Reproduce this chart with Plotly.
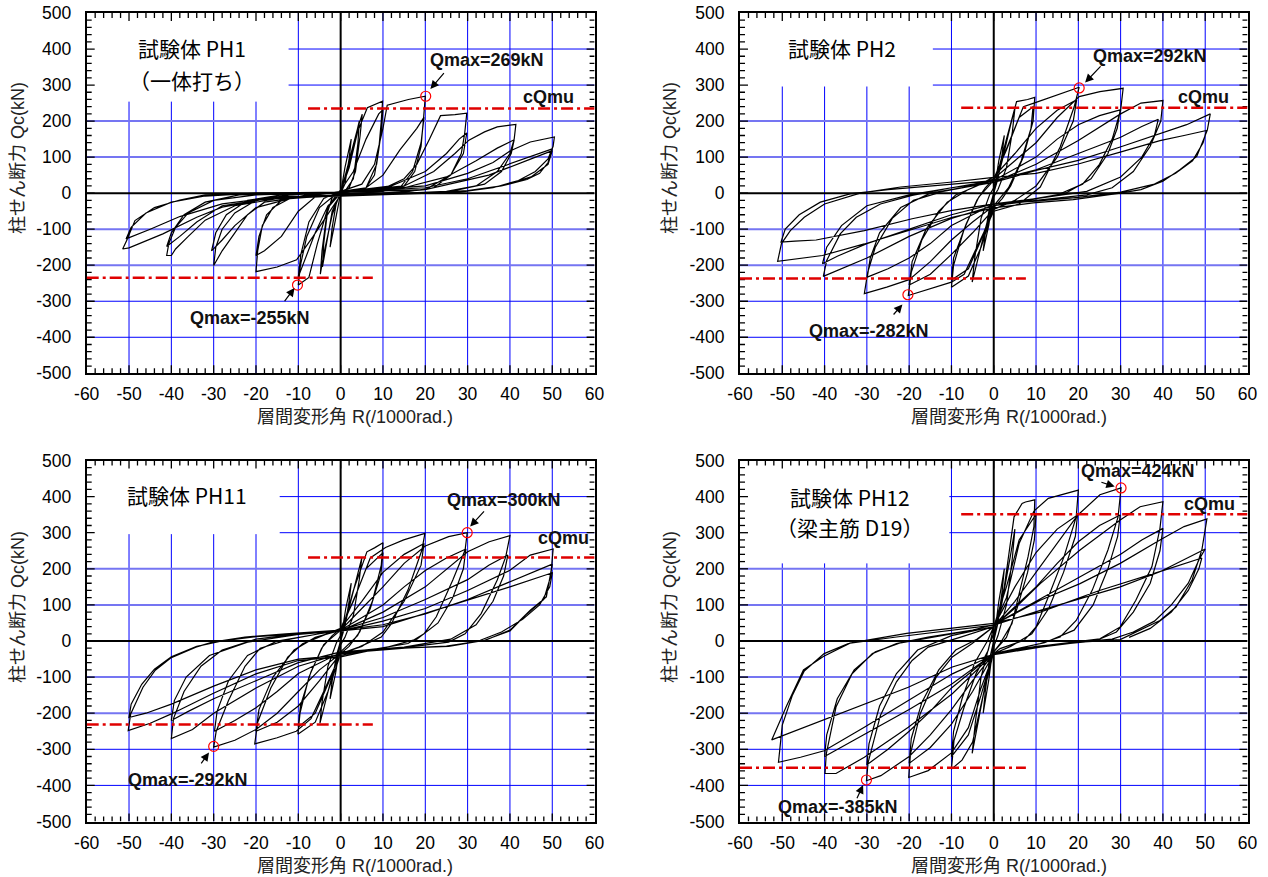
import plotly.graph_objects as go

# ---------------- data (R in 1/1000 rad, Q in kN) ----------------
PH1_R = [0, 1, 2.5, 2, 1, 0, -1, -2.5, -2, -1, 0,
         2, 4, 5.1, 4.6, 3.5, 2, 0, -2, -4, -4.8, -4.4, -3.3, -2, 0,
         2, 4.4, 4.1, 3, 1, 0, -2, -4.3, -4, -3, -1, 0,
         2, 4, 6.3, 8, 9.9, 9.6, 9, 8, 6, 3, 0, -3, -5.5, -7.5, -10, -9.5, -8, -5, -2, 0,
         3, 6, 9, 10, 9.6, 8.5, 6, 2, 0, -3, -6, -8.5, -10, -9.4, -7.5, -4, 0,
         5, 8, 10, 11, 16, 19.7, 20, 19.6, 19, 17.5, 15, 10, 0, -3.4, -6.5, -10.4, -15, -20, -19.6, -18.5, -16, -12, -6, 0,
         6, 10, 14, 18, 19.7, 19, 17, 14, 8, 0, -6, -10, -14, -18, -20, -19.3, -17.5, -14, -8, 0,
         10, 15, 18, 21, 23.6, 27, 29.8, 29.3, 28.5, 26, 22, 15, 0, -10, -18, -22, -25, -28, -30, -29.5, -28, -25, -20, -12, 0,
         12, 20, 25, 28, 29.8, 29, 26, 20, 10, 0, -12, -20, -25, -28, -30.5, -29.5, -27, -22, -14, 0,
         15, 22, 27, 30.3, 34, 37, 41.4, 41, 40, 37, 32, 25, 0, -15, -25, -32, -36, -39, -40, -41.1, -40.6, -39, -36, -30, -20, 0,
         15, 25, 32, 37, 41, 40.3, 38, 34, 26, 0, -15, -28, -34, -38, -41.1, -40, -37, -32, -24, 0,
         20, 30, 36, 40, 44.8, 50.5, 50.2, 49, 46, 42, 36, 28, 0, -10, -19, -28, -34, -42, -50, -51.5, -50.5, -48.6, -44, -38, -32, -19, 0,
         20, 30, 40, 46, 50, 49, 47, 44, 38, 30, 20, 0, -15, -28, -38, -45, -50.7, -49.5, -46, -40, -32, -20, 0,
         20, 35, 45, 50, 49, 45, 38, 28]
PH1_Q = [0, 70, 150, 95, 25, 0, -60, -150, -95, -25, 0,
         90, 180, 219, 160, 60, 15, 3, -60, -170, -225, -160, -60, -12, 5,
         80, 200, 140, 40, 5, 0, -50, -205, -140, -40, -5, 5,
         70, 170, 237, 245, 255, 200, 120, 50, 15, 5, 0, -40, -140, -234, -255, -200, -120, -40, -10, 8,
         60, 150, 220, 232, 170, 80, 15, 3, 0, -35, -110, -190, -232, -170, -80, -15, 5,
         25, 80, 180, 244, 260, 267, 269, 210, 130, 60, 20, 5, -5, -65, -120, -185, -205, -218, -160, -90, -40, -15, -5, 5,
         15, 50, 120, 180, 211, 140, 60, 15, 3, -3, -10, -50, -120, -160, -173, -120, -60, -20, -5, 3,
         12, 40, 80, 150, 215, 218, 222, 165, 110, 50, 15, 3, -5, -12, -25, -60, -110, -160, -201, -150, -100, -55, -20, -5, 3,
         20, 60, 110, 150, 167, 110, 50, 10, 0, -5, -15, -40, -90, -130, -160, -110, -60, -20, -5, 3,
         20, 60, 110, 147, 170, 184, 191, 150, 110, 60, 20, 5, -8, -15, -35, -75, -120, -155, -173, -173, -140, -95, -55, -20, -5, 3,
         15, 45, 90, 125, 148, 110, 60, 25, 5, -8, -12, -35, -80, -120, -148, -110, -60, -25, -5, 3,
         20, 55, 85, 117, 142, 156, 130, 95, 60, 35, 15, 3, -8, -11, -19, -39, -67, -113, -152, -155, -130, -76, -40, -19, -5, 0, 3,
         15, 40, 82, 105, 123, 85, 55, 38, 20, 7, 0, -5, -10, -30, -65, -100, -127, -95, -55, -25, -8, 0, 3,
         10, 50, 95, 118, 80, 45, 20, 2]

PH2_R = [0, 1.2, 2.5, 2, 1, 0, -1.2, -2.5, -2, -1, 0,
         2, 4, 5, 4.4, 3, 1, 0, -2, -4, -5.1, -4.5, -3, -1, 0,
         3, 5.4, 8, 9.7, 9.3, 7, 4, 2, 0, -3, -6, -8, -10, -9.5, -7, -4, -2, 0,
         3, 6, 9.3, 8.8, 6.5, 3.5, 0, -3, -6, -10, -9.5, -6.5, -3.5, 0,
         4, 7, 10, 14.9, 20.2, 19, 15.7, 11, 6, 0, -4, -7, -10, -15, -20.2, -19.5, -17, -13, -9, -4, 0,
         5, 10, 15, 19.6, 18.8, 15, 10, 5, 0, -5, -10, -15, -20, -19.3, -16, -11, -6, 0,
         5, 10, 15, 20.2, 25.1, 30.6, 30, 28, 25, 21, 15, 5, 0, -5, -10, -15, -20, -25.3, -30.6, -29.8, -28, -24, -19, -12, -5, 0,
         10, 15, 20, 25, 29.9, 29.2, 27, 23, 17, 8, 0, -10, -15, -20, -25, -29.9, -29.2, -27, -22, -15, -5, 0,
         10, 20, 30, 34.8, 40, 39.5, 37, 33, 28, 22, 10, 0, -10, -20, -30, -36, -40.3, -39.5, -36.3, -32.5, -26.8, -19.3, -10, 0,
         10, 20, 30, 35, 38.9, 38, 35, 30, 22, 10, 0, -10, -20, -30, -37, -40.5, -39.5, -36, -30, -20, -10, 0,
         10, 20, 29.9, 40.3, 45.6, 51.2, 50.5, 48, 44, 40, 34.8, 29.9, 18.8, 9.3, 0, -9.8, -20.2, -30.6, -40.5, -45, -51.1, -50.2, -48.1, -44.8, -40, -31.6, -22, -9.8, 0,
         10, 20, 29.9, 39.3, 45, 50.3, 49.5, 47, 43, 38, 30, 20, 10, 0, -9.8, -19.3, -30.6, -42, -47, -50.3, -49.3, -46, -41, -34, -25, -15, -5, 0]
PH2_Q = [0, 90, 160, 110, 40, 0, -90, -160, -110, -40, 0,
         90, 190, 235, 170, 70, 10, -10, -100, -200, -247, -180, -70, -5, 15,
         150, 254, 260, 266, 200, 100, 20, -15, -40, -150, -230, -245, -261, -200, -100, -20, 15, 40,
         120, 210, 240, 180, 90, 15, -35, -130, -210, -241, -180, -85, -10, 35,
         150, 240, 252, 273, 294, 239, 128, 17, -30, -50, -150, -225, -247, -266, -284, -220, -130, -50, -5, 20, 45,
         110, 180, 230, 259, 200, 100, 20, -20, -45, -110, -170, -225, -255, -190, -100, -25, 10, 40,
         90, 140, 210, 268, 282, 291, 230, 150, 80, 25, -5, -25, -35, -80, -130, -190, -240, -261, -279, -220, -150, -70, -20, 5, 20, 35,
         100, 150, 190, 215, 231, 180, 110, 40, 0, -20, -30, -90, -140, -180, -210, -233, -180, -110, -40, 0, 20, 30,
         80, 146, 220, 250, 257, 200, 130, 60, 15, -5, -20, -35, -70, -120, -180, -210, -231, -187, -113, -67, -30, -6, 15, 35,
         65, 110, 155, 185, 205, 160, 100, 45, 5, -15, -30, -60, -100, -140, -175, -196, -150, -90, -35, -5, 15, 30,
         63, 91, 128, 170, 190, 220, 175, 102, 65, 33, 10, 0, -18, -27, -41, -67, -104, -141, -173, -180, -189, -140, -104, -67, -30, 0, 17, 31, 44,
         55, 81, 114, 146, 160, 174, 140, 90, 55, 25, 3, -12, -22, -30, -48, -71, -104, -130, -133, -136, -100, -60, -25, -2, 10, 20, 28, 35]

PH11_R = [0, 1.2, 2.5, 2, 1, 0, -1.2, -2.5, -2, -1, 0,
          2, 4, 5, 4.4, 3, 1, 0, -2, -4, -4.9, -4.4, -3, -1, 0,
          3, 6.2, 8, 10, 9.6, 7.5, 4.5, 2, 0, -3, -6, -8, -10.1, -9.6, -7.5, -4.5, -2, 0,
          3, 6, 10, 9.5, 7, 4, 0, -3, -6, -10, -9.5, -7, -4, 0,
          4, 7, 10.6, 14.9, 19.9, 19.2, 15.9, 12, 9.6, 4.3, 0, -4, -7, -10.5, -15, -20.3, -19.6, -16.5, -12.5, -9, -4, 0,
          5, 10, 15, 19.7, 19, 15, 10, 5, 0, -5, -10, -15, -20, -19.3, -16, -11, -6, 0,
          5, 10, 15, 20, 25.5, 29.9, 29.4, 26.5, 22.6, 19.7, 15.9, 6.3, 0, -5, -10, -15, -20, -25, -30, -29.4, -26.5, -22.6, -19, -12, -5, 0,
          10, 15, 20, 25, 29.6, 29, 26.5, 23, 18, 10, 0, -10, -15, -20, -25, -29.8, -29.2, -26.5, -22, -15, -5, 0,
          10, 20, 30, 35.1, 40, 39, 37, 33.2, 29.4, 25.5, 15.9, 0, -10, -20, -30, -35, -40, -39.5, -37, -33, -28, -20, -10, 0,
          10, 20, 30, 35, 39.5, 38.5, 36, 32, 26, 15, 0, -10, -20, -30, -36, -40, -39.3, -36.5, -31, -22, -10, 0,
          10, 20, 30, 40, 44.8, 50.2, 49.8, 48.6, 44.8, 40, 34.2, 25.5, 15.9, 6.3, 0, -10, -20, -30.3, -40, -45, -50.2, -49.6, -46.7, -43.8, -40, -34.2, -30.3, -22.6, -13, 0,
          10, 20, 30, 40, 46, 50, 49.5, 48, 44, 40, 34, 25, 15, 5, 0, -10, -20, -30, -40, -46, -50, -49.5, -47, -44, -40, -34, -28, -20, -10, 0,
          10, 25, 40, 50, 49.4, 47, 43, 38, 33]
PH11_Q = [0, 90, 160, 110, 40, 0, -90, -160, -110, -40, 0,
          90, 185, 230, 170, 70, 10, -10, -95, -185, -228, -170, -70, -5, 15,
          140, 247, 258, 272, 210, 110, 25, -15, -35, -140, -225, -242, -258, -200, -100, -20, 15, 35,
          110, 200, 245, 185, 90, 15, -30, -120, -200, -238, -180, -85, -10, 30,
          140, 230, 259, 280, 298, 252, 141, 48, 11, -17, -35, -140, -215, -250, -268, -285, -225, -130, -45, -8, 15, 35,
          110, 190, 240, 270, 210, 110, 25, -15, -35, -110, -180, -225, -250, -190, -100, -25, 10, 30,
          90, 150, 215, 263, 289, 300, 252, 169, 67, 20, -7, -26, -35, -80, -140, -200, -245, -275, -294, -250, -165, -70, -20, 5, 20, 30,
          100, 150, 195, 230, 255, 200, 120, 50, 5, -20, -32, -90, -140, -185, -220, -250, -195, -110, -40, 0, 20, 28,
          80, 150, 247, 275, 292, 233, 169, 76, 20, -3, -17, -35, -70, -130, -200, -245, -270, -215, -140, -70, -25, 5, 20, 30,
          65, 115, 170, 210, 238, 180, 110, 45, 5, -17, -30, -60, -110, -160, -195, -220, -165, -100, -40, -3, 18, 28,
          55, 90, 140, 196, 238, 255, 200, 122, 85, 30, 2, -15, -19, -28, -44, -54, -91, -146, -202, -228, -248, -202, -128, -81, -46, -17, -3, 11, 20, 30,
          45, 75, 115, 165, 195, 213, 175, 115, 75, 28, 2, -14, -20, -28, -40, -50, -80, -125, -175, -200, -212, -175, -120, -78, -44, -15, 0, 12, 20, 28,
          40, 95, 150, 189, 150, 100, 60, 25, 2]

PH12_R = [0, 1.2, 2.5, 2, 1, 0, -1.2, -2.5, -2, -1, 0,
          2, 4, 5, 4.4, 3, 1, 0, -2, -4, -5.1, -4.4, -3, -1, 0,
          2.5, 4.8, 6.7, 7.5, 9.7, 9.5, 8.1, 6.2, 4.3, 1.5, 0, -2.5, -5, -7.5, -10, -9.4, -7, -4.2, -1.3, 0,
          3, 6, 10, 9.6, 8, 5.5, 3, 0, -3, -6, -10, -9.5, -7.5, -4.5, -1.5, 0,
          3, 6, 9.5, 12.9, 20, 19.5, 16.6, 12.9, 10, 7.2, 1.5, 0, -3, -6, -10, -15.5, -20.1, -19.7, -17.4, -13.6, -9.8, -5.1, 0,
          5, 10, 15, 19.8, 19.3, 16.5, 13, 9, 4, 0, -5, -10, -15, -20, -19.5, -17, -13, -9, -4, 0,
          5, 10, 15, 19.9, 25.1, 30.1, 29.4, 27, 23.3, 19.5, 15.7, 11, 0, -5, -10, -15, -20, -26.7, -30.1, -29.7, -26.8, -23, -19.3, -15.5, -8, 0,
          10, 15, 20, 25, 29.9, 29.3, 27, 23.5, 19, 12, 0, -10, -15, -20, -25, -30, -29.5, -27, -23, -18, -10, 0,
          5.3, 11, 20.4, 29.9, 34.6, 40, 39.3, 37.4, 33.6, 29.9, 25.1, 15.7, 6.2, 0, -9.8, -20.2, -30.6, -37.3, -39.9, -39.6, -37.3, -33.5, -28.7, -23, -15.5, -5, 0,
          10, 20, 30, 35, 40, 39.3, 37, 33, 29, 24, 15, 5, 0, -10, -20, -30, -36, -40, -39.5, -37, -33, -28, -22, -14, -5, 0,
          11, 20.4, 29.9, 39.3, 45, 50.4, 49.2, 46.9, 43.1, 39.3, 34.6, 29.9, 20.4, 11, 1.5, 0, -9.8, -20.2, -30.6, -40.1, -45.7, -50.9, -50, -47.6, -44.8, -40.1, -34.4, -23, -9.8, 0,
          11, 20.4, 29.9, 39.3, 45, 50, 48.7, 46, 42, 38, 33, 28, 20, 10, 0, -9.8, -20.2, -34, -45, -52.5, -49, -45, -40.3, -34, -20.6, -10, 0,
          11, 25, 40, 49.2, 48.5, 46, 42, 37, 32]
PH12_Q = [0, 110, 200, 140, 50, 0, -110, -200, -140, -50, 0,
          110, 240, 310, 230, 100, 15, -15, -120, -250, -311, -230, -100, -10, 20,
          150, 344, 381, 385, 391, 317, 233, 141, 48, -7, -30, -150, -280, -330, -355, -276, -183, -91, -26, 40,
          150, 280, 351, 280, 190, 90, 10, -30, -150, -260, -320, -250, -160, -60, 0, 40,
          120, 270, 360, 395, 418, 344, 233, 122, 39, 2, -21, -35, -130, -240, -310, -359, -378, -313, -202, -100, -44, -7, 40,
          150, 245, 310, 349, 290, 190, 90, 20, -15, -35, -140, -230, -295, -339, -270, -170, -80, -25, 5, 40,
          110, 190, 270, 349, 405, 424, 344, 252, 141, 57, 11, -7, -35, -110, -190, -260, -320, -373, -387, -336, -206, -113, -54, -17, 10, 40,
          150, 215, 275, 320, 349, 290, 200, 100, 30, -5, -35, -130, -195, -250, -300, -343, -285, -180, -90, -25, 15, 40,
          94, 159, 252, 335, 372, 386, 312, 206, 113, 39, 6, -7, -21, -35, -146, -239, -322, -367, -367, -313, -183, -91, -35, -7, 11, 30, 45,
          110, 175, 240, 280, 312, 250, 160, 80, 25, 0, -10, -25, -35, -120, -190, -255, -295, -320, -260, -160, -80, -30, -5, 12, 30, 45,
          113, 159, 215, 280, 317, 338, 252, 169, 94, 57, 30, 4, -3, -17, -35, -38, -91, -165, -239, -304, -322, -336, -233, -150, -83, -35, -7, 11, 30, 44,
          85, 118, 150, 192, 225, 255, 229, 160, 100, 55, 25, 5, -3, -15, -37, -72, -128, -191, -240, -274, -180, -80, -43, -6, 21, 35, 49,
          80, 140, 195, 230, 200, 140, 80, 35, 10]

SPECIMENS = ["試験体 PH1", "試験体 PH2", "試験体 PH11", "試験体 PH12"]
SUBTITLES = ["（一体打ち）", "", "", "（梁主筋 D19）"]
CQMU = [235, 237, 231, 351]               # cQmu (kN)
QMAX_POS = [(20.1, 269), (20.2, 292), (29.9, 300), (30.1, 424)]
QMAX_NEG = [(-10.2, -255), (-20.3, -282), (-30.0, -292), (-30.1, -385)]
QMAX_POS_LABEL = ["Qmax=269kN", "Qmax=292kN", "Qmax=300kN", "Qmax=424kN"]
QMAX_NEG_LABEL = ["Qmax=-255kN", "Qmax=-282kN", "Qmax=-292kN", "Qmax=-385kN"]
X_TICKS = list(range(-60, 61, 10))
Y_TICKS = list(range(-500, 501, 100))

# ---------------- layout geometry / styling ----------------
W, H = 1268, 877
XDOM = [(86.7 / W, 594.6 / W), (740.0 / W, 1247.5 / W)]
YDOM = [(1 - 373.3 / H, 1 - 13.0 / H), (1 - 821.5 / H, 1 - 460.5 / H)]
PX_X = (594.6 - 86.7) / 120.0     # pixels per R unit
PX_Y = (373.3 - 13.0) / 1000.0    # pixels per kN
FONT = "Liberation Sans, Arial, Noto Sans CJK JP, sans-serif"
CJK = "Noto Sans CJK JP, sans-serif"

panels = [
    dict(R=PH1_R, Q=PH1_Q, col=0, row=0, box=(-12.3, 254),
         tpos=(-35.1, 402, 314), pl=(34.6, 370), pt=(24.7, 337), ph=(21.2, 289),
         nl=(-21.5, -346), nt=(-13.5, -304), nh=(-10.9, -263), cq=(49.1, 266)),
    dict(R=PH2_R, Q=PH2_Q, col=1, row=0, box=(-14.4, 296),
         tpos=(-35.8, 402, 314), pl=(37.0, 381), pt=(25.6, 356), ph=(21.6, 307),
         nl=(-29.5, -383), nt=(-24.0, -341), nh=(-21.6, -309), cq=(49.7, 268)),
    dict(R=PH11_R, Q=PH11_Q, col=0, row=1, box=(-14.4, 296),
         tpos=(-36.4, 404, 314), pl=(38.5, 391), pt=(34.2, 363), ph=(30.6, 317),
         nl=(-36.1, -385), nt=(-33.2, -343), nh=(-31.1, -309), cq=(52.6, 284)),
    dict(R=PH12_R, Q=PH12_Q, col=1, row=1, box=(-10.5, 215),
         tpos=(-34.0, 400, 315), pl=(34.1, 472), pt=(25.1, 441), ph=(28.6, 428),
         nl=(-36.8, -459), nt=(-32.5, -440), nh=(-30.9, -399), cq=(51.1, 380)),
]

# tick-mark segments (inside, all four sides), in data units
tick_x, tick_y = [], []
for v in range(-58, 59, 2):
    L = (8 if v % 10 == 0 else 5) / PX_Y
    tick_x += [v, v, None, v, v, None]
    tick_y += [-500, -500 + L, None, 500, 500 - L, None]
for q in range(-480, 481, 20):
    L = (8 if q % 100 == 0 else 5) / PX_X
    tick_x += [-60, -60 + L, None, 60, 60 - L, None]
    tick_y += [q, q, None, q, q, None]

fig = go.Figure()
shapes, annos = [], []
layout_axes = {}

for i, p in enumerate(panels):
    n = "" if i == 0 else str(i + 1)
    xr, yr = "x" + n, "y" + n
    layout_axes["xaxis" + n] = dict(
        domain=list(XDOM[p["col"]]), anchor=yr, range=[-60, 60], automargin=False,
        tickmode="array", tickvals=X_TICKS, ticktext=[str(v) for v in X_TICKS],
        ticks="", showline=True, linewidth=2, linecolor="black", mirror=True,
        showgrid=False, zeroline=False, ticklabelstandoff=4,
        tickfont=dict(family=FONT, size=17.5, color="black"), fixedrange=True)
    layout_axes["yaxis" + n] = dict(
        domain=list(YDOM[p["row"]]), anchor=xr, range=[-500, 500], automargin=False,
        tickmode="array", tickvals=Y_TICKS, ticktext=[str(v) for v in Y_TICKS],
        ticks="", showline=True, linewidth=2, linecolor="black", mirror=True,
        showgrid=False, zeroline=False, ticklabelstandoff=10,
        tickfont=dict(family=FONT, size=17.5, color="black"), fixedrange=True)

    bx, by = p["box"]
    # vertical grid
    for v in X_TICKS[1:-1]:
        if v == 0:
            continue
        top = by if v < bx else 500
        shapes.append(dict(type="line", xref=xr, yref=yr, x0=v, x1=v, y0=-500, y1=top,
                           line=dict(color="#0000ff", width=1), layer="below"))
    # horizontal grid
    for h in Y_TICKS[1:-1]:
        if h == 0:
            continue
        left = bx if h > by else -60
        if abs(h) <= 200:
            ln = dict(color="#7575f2", width=2)
        else:
            ln = dict(color="#0000ff", width=1)
        shapes.append(dict(type="line", xref=xr, yref=yr, x0=left, x1=60, y0=h, y1=h,
                           line=ln, layer="below"))
    # zero axes
    shapes.append(dict(type="line", xref=xr, yref=yr, x0=0, x1=0, y0=-500, y1=500,
                       line=dict(color="black", width=2), layer="below"))
    shapes.append(dict(type="line", xref=xr, yref=yr, x0=-60, x1=60, y0=0, y1=0,
                       line=dict(color="black", width=2), layer="below"))
    # cQmu lines
    cq = CQMU[i]
    shapes.append(dict(type="line", xref=xr, yref=yr, x0=-7.7, x1=60, y0=cq, y1=cq,
                       line=dict(color="#e00000", width=2.5, dash="12px,4px,3px,4px"),
                       layer="above"))
    shapes.append(dict(type="line", xref=xr, yref=yr, x0=-60, x1=7.6, y0=-cq, y1=-cq,
                       line=dict(color="#e00000", width=2.5, dash="12px,4px,3px,4px"),
                       layer="above"))

    # tick marks
    fig.add_trace(go.Scatter(x=tick_x, y=tick_y, mode="lines", xaxis=xr, yaxis=yr,
                             line=dict(color="black", width=1.3), hoverinfo="skip",
                             showlegend=False, cliponaxis=False))
    # hysteresis curve
    fig.add_trace(go.Scatter(x=p["R"], y=p["Q"], mode="lines", xaxis=xr, yaxis=yr,
                             line=dict(color="black", width=1.2), hoverinfo="skip",
                             showlegend=False))
    # Qmax circles
    fig.add_trace(go.Scatter(x=[QMAX_POS[i][0], QMAX_NEG[i][0]],
                             y=[QMAX_POS[i][1], QMAX_NEG[i][1]],
                             mode="markers", xaxis=xr, yaxis=yr,
                             marker=dict(symbol="circle-open", size=10,
                                         color="#ff0000", line=dict(width=1.2)),
                             hoverinfo="skip", showlegend=False))

    tx, ty1, ty2 = p["tpos"]
    annos.append(dict(xref=xr, yref=yr, x=tx, y=ty1, text=SPECIMENS[i], showarrow=False,
                      font=dict(family=CJK, size=21, color="black"), xanchor="center",
                      yanchor="middle"))
    if SUBTITLES[i]:
        annos.append(dict(xref=xr, yref=yr, x=tx, y=ty2, text=SUBTITLES[i], showarrow=False,
                          font=dict(family=CJK, size=21, color="black"), xanchor="center",
                          yanchor="middle"))
    bold = dict(family="Liberation Sans, Arial, sans-serif", size=18, color="#111")
    annos.append(dict(xref=xr, yref=yr, x=p["pl"][0], y=p["pl"][1],
                      text="<b>" + QMAX_POS_LABEL[i] + "</b>", showarrow=False, font=bold))
    annos.append(dict(xref=xr, yref=yr, x=p["nl"][0], y=p["nl"][1],
                      text="<b>" + QMAX_NEG_LABEL[i] + "</b>", showarrow=False, font=bold))
    annos.append(dict(xref=xr, yref=yr, x=p["cq"][0], y=p["cq"][1],
                      text="<b>cQmu</b>", showarrow=False, font=bold))
    for head, tail in ((p["ph"], p["pt"]), (p["nh"], p["nt"])):
        annos.append(dict(xref=xr, yref=yr, x=head[0], y=head[1], axref=xr, ayref=yr,
                          ax=tail[0], ay=tail[1], text="", showarrow=True,
                          arrowhead=2, arrowsize=1.4, arrowwidth=1.2, arrowcolor="black",
                          standoff=0, startstandoff=0))

# axis titles (placed as text)
XT = [(355 / W, 1 - 417.3 / H), (1009 / W, 1 - 417.3 / H),
      (355 / W, 1 - 865.5 / H), (1009 / W, 1 - 865.5 / H)]
YT = [(18 / W, 1 - 158 / H), (670 / W, 1 - 158 / H),
      (18 / W, 1 - 607 / H), (670 / W, 1 - 607 / H)]
for (xx, yy) in XT:
    annos.append(dict(xref="paper", yref="paper", x=xx, y=yy, text="層間変形角 R(/1000rad.)",
                      showarrow=False, xanchor="center", yanchor="middle",
                      font=dict(family=FONT, size=18, color="#222")))
for (xx, yy) in YT:
    annos.append(dict(xref="paper", yref="paper", x=xx, y=yy, text="柱せん断力 Qc(kN)",
                      showarrow=False, xanchor="center", yanchor="middle", textangle=-90,
                      font=dict(family=FONT, size=18, color="#222")))

fig.update_layout(width=W, height=H, margin=dict(l=0, r=0, t=0, b=0),
                  paper_bgcolor="white", plot_bgcolor="white", showlegend=False,
                  shapes=shapes, annotations=annos, **layout_axes)

fig.write_html("out.html")
